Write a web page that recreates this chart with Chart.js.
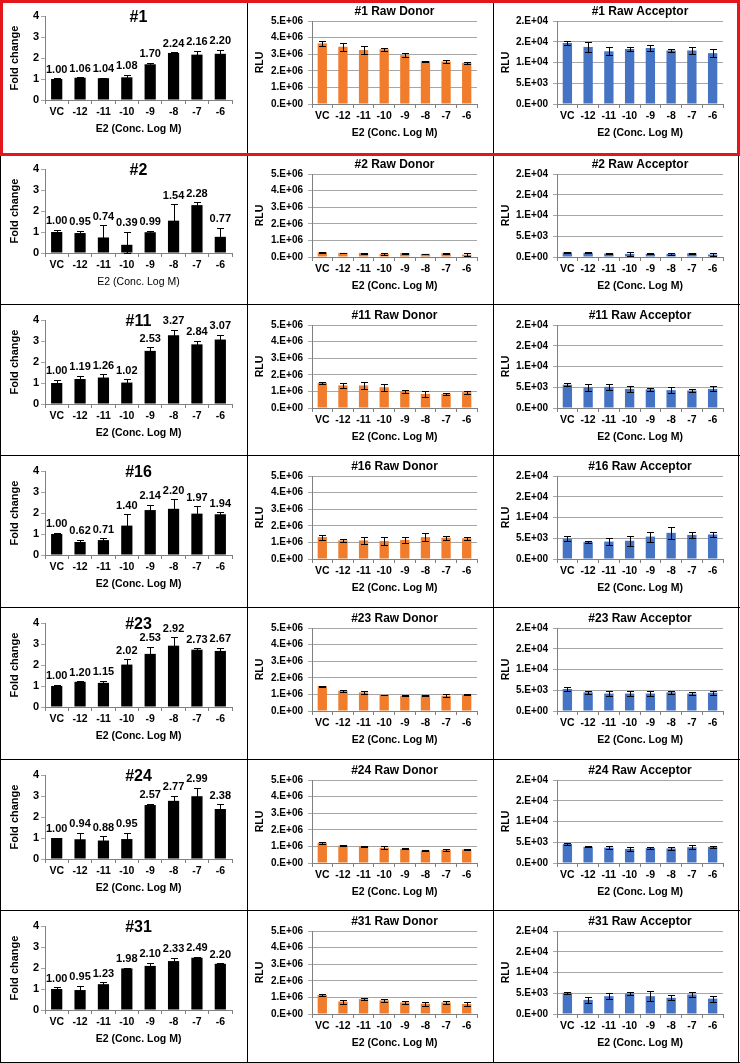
<!DOCTYPE html>
<html>
<head>
<meta charset="utf-8">
<script src="https://cdn.jsdelivr.net/npm/chart.js@4.4.0/dist/chart.umd.min.js"></script>
<style>
    body { margin: 0; background: #fff; }
    #sheet { position: relative; width: 740px; height: 1063px; overflow: hidden; background: #fff; }
    .cell { position: absolute; }
    .cell canvas { display: block; }
    .line { position: absolute; background: #000; }
    .redbox { position: absolute; border: 3px solid #e3161b; box-sizing: border-box; }
</style>
</head>
<body>
<div id="sheet"></div>
<script>
// ========================================
// DATA
// ========================================

const categories = ['VC', '-12', '-11', '-10', '-9', '-8', '-7', '-6'];
const samples = ['#1', '#2', '#11', '#16', '#23', '#24', '#31'];

// Fold change, one row per sample
const foldValues = [
    [1.00, 1.06, 1.04, 1.08, 1.70, 2.24, 2.16, 2.20],
    [1.00, 0.95, 0.74, 0.39, 0.99, 1.54, 2.28, 0.77],
    [1.00, 1.19, 1.26, 1.02, 2.53, 3.27, 2.84, 3.07],
    [1.00, 0.62, 0.71, 1.40, 2.14, 2.20, 1.97, 1.94],
    [1.00, 1.20, 1.15, 2.02, 2.53, 2.92, 2.73, 2.67],
    [1.00, 0.94, 0.88, 0.95, 2.57, 2.77, 2.99, 2.38],
    [1.00, 0.95, 1.23, 1.98, 2.10, 2.33, 2.49, 2.20]
];
const foldErrors = [
    [0.04, 0.02, 0.02, 0.12, 0.08, 0.04, 0.18, 0.19],
    [0.10, 0.10, 0.58, 0.62, 0.08, 0.78, 0.14, 0.43],
    [0.15, 0.15, 0.17, 0.17, 0.17, 0.26, 0.18, 0.22],
    [0.07, 0.10, 0.08, 0.55, 0.25, 0.45, 0.35, 0.10],
    [0.06, 0.03, 0.10, 0.25, 0.33, 0.40, 0.08, 0.15],
    [0.02, 0.30, 0.20, 0.30, 0.07, 0.25, 0.40, 0.22],
    [0.08, 0.20, 0.08, 0.03, 0.15, 0.15, 0.05, 0.03]
];

// Raw donor RLU
const donorValues = [
    [3.65e6, 3.45e6, 3.25e6, 3.30e6, 2.94e6, 2.58e6, 2.56e6, 2.48e6],
    [0.28e6, 0.25e6, 0.24e6, 0.18e6, 0.24e6, 0.19e6, 0.23e6, 0.14e6],
    [1.52e6, 1.36e6, 1.36e6, 1.25e6, 1.00e6, 0.85e6, 0.85e6, 0.95e6],
    [1.32e6, 1.12e6, 1.12e6, 1.08e6, 1.15e6, 1.32e6, 1.28e6, 1.25e6],
    [1.50e6, 1.22e6, 1.12e6, 0.97e6, 0.92e6, 0.95e6, 0.92e6, 0.97e6],
    [1.22e6, 1.05e6, 1.00e6, 0.92e6, 0.85e6, 0.75e6, 0.80e6, 0.82e6],
    [1.15e6, 0.75e6, 0.90e6, 0.82e6, 0.70e6, 0.62e6, 0.70e6, 0.60e6]
];
const donorErrors = [
    [0.15e6, 0.25e6, 0.22e6, 0.08e6, 0.12e6, 0.02e6, 0.10e6, 0.06e6],
    [0.03e6, 0.02e6, 0.03e6, 0.08e6, 0.03e6, 0.02e6, 0.03e6, 0.08e6],
    [0.05e6, 0.15e6, 0.20e6, 0.20e6, 0.08e6, 0.20e6, 0.06e6, 0.10e6],
    [0.15e6, 0.08e6, 0.22e6, 0.25e6, 0.20e6, 0.22e6, 0.12e6, 0.10e6],
    [0.03e6, 0.06e6, 0.10e6, 0.02e6, 0.03e6, 0.02e6, 0.08e6, 0.03e6],
    [0.05e6, 0.02e6, 0.05e6, 0.08e6, 0.03e6, 0.03e6, 0.06e6, 0.04e6],
    [0.05e6, 0.12e6, 0.05e6, 0.08e6, 0.10e6, 0.12e6, 0.10e6, 0.10e6]
];

// Raw acceptor RLU
const acceptorValues = [
    [14.7e3, 13.75e3, 12.7e3, 13.25e3, 13.5e3, 12.9e3, 12.9e3, 12.25e3],
    [1.1e3, 1.0e3, 0.85e3, 0.75e3, 0.75e3, 0.75e3, 0.9e3, 0.6e3],
    [5.6e3, 5.0e3, 5.1e3, 4.6e3, 4.5e3, 4.3e3, 4.2e3, 4.6e3],
    [4.9e3, 4.1e3, 4.2e3, 4.4e3, 5.4e3, 6.3e3, 5.8e3, 5.9e3],
    [5.3e3, 4.5e3, 4.2e3, 4.2e3, 4.2e3, 4.5e3, 4.2e3, 4.4e3],
    [4.6e3, 3.9e3, 3.7e3, 3.4e3, 3.6e3, 3.5e3, 3.8e3, 3.9e3],
    [5.1e3, 3.4e3, 4.3e3, 4.9e3, 4.3e3, 3.9e3, 4.7e3, 3.7e3]
];
const acceptorErrors = [
    [0.6e3, 1.2e3, 1.0e3, 0.5e3, 0.8e3, 0.3e3, 0.9e3, 0.9e3],
    [0.2e3, 0.1e3, 0.2e3, 0.4e3, 0.1e3, 0.15e3, 0.1e3, 0.35e3],
    [0.4e3, 0.8e3, 0.7e3, 0.8e3, 0.4e3, 0.7e3, 0.3e3, 0.6e3],
    [0.6e3, 0.2e3, 0.8e3, 1.2e3, 1.2e3, 1.4e3, 0.8e3, 0.7e3],
    [0.4e3, 0.4e3, 0.5e3, 0.5e3, 0.5e3, 0.4e3, 0.4e3, 0.5e3],
    [0.2e3, 0.15e3, 0.4e3, 0.4e3, 0.15e3, 0.25e3, 0.5e3, 0.2e3],
    [0.3e3, 0.7e3, 0.7e3, 0.4e3, 1.2e3, 0.6e3, 0.6e3, 0.7e3]
];

// Axis ranges
const foldMax = 4, foldStep = 1;
const donorMax = 5e6, donorStep = 1e6;
const acceptorMax = 2e4, acceptorStep = 5e3;

// ========================================
// LAYOUT
// ========================================

const colX = [0, 247, 493, 740];
const rowY = [0, 153, 304, 455, 607, 759, 910, 1063];
const X_AXIS_H = 35;

const panelKinds = {
    fold:     { left: 45, right: 232, top: 16, bottom: 100, color: '#000000', max: foldMax, step: foldStep,
                yTitle: 'Fold change', titleY: 18, titleFont: 'bold 16px "Liberation Sans", Arial, sans-serif' },
    donor:    { left: 65, right: 230, top: 21, bottom: 104, color: '#f07c2c', max: donorMax, step: donorStep,
                yTitle: 'RLU', titleY: 12, titleFont: 'bold 12px "Liberation Sans", Arial, sans-serif' },
    acceptor: { left: 64, right: 230, top: 21, bottom: 104, color: '#4674c4', max: acceptorMax, step: acceptorStep,
                yTitle: 'RLU', titleY: 12, titleFont: 'bold 12px "Liberation Sans", Arial, sans-serif' }
};

Chart.defaults.font.family = '"Liberation Sans", Arial, sans-serif';
Chart.defaults.color = '#000';

// Excel style "1.E+06"
function sciLabel(v) {
    if (v === 0) return '0.E+00';
    const e = Math.floor(Math.log10(v) + 1e-9);
    const m = Math.round(v / Math.pow(10, e));
    return m + '.E+' + String(e).padStart(2, '0');
}

// ========================================
// PLUGINS
// ========================================

const errorBarPlugin = {
    id: 'errorBars',
    afterDatasetsDraw(chart, args, opts) {
        const errs = opts.errors;
        if (!errs) return;
        const ctx = chart.ctx;
        const y = chart.scales.y;
        const data = chart.data.datasets[0].data;
        ctx.save();
        ctx.strokeStyle = '#000';
        ctx.lineWidth = 1;
        chart.getDatasetMeta(0).data.forEach((bar, i) => {
            const top = Math.round(y.getPixelForValue(data[i] + errs[i])) + 0.5;
            const bot = Math.round(y.getPixelForValue(Math.max(0, data[i] - errs[i]))) + 0.5;
            const x = Math.round(bar.x) + 0.5;
            ctx.beginPath();
            ctx.moveTo(x, top); ctx.lineTo(x, bot);
            ctx.moveTo(x - 3.5, top); ctx.lineTo(x + 3.5, top);
            ctx.moveTo(x - 3.5, bot); ctx.lineTo(x + 3.5, bot);
            ctx.stroke();
        });
        ctx.restore();
    }
};

const valueLabelPlugin = {
    id: 'valueLabels',
    afterDatasetsDraw(chart, args, opts) {
        if (!opts.show) return;
        const ctx = chart.ctx;
        const y = chart.scales.y;
        const data = chart.data.datasets[0].data;
        const errs = opts.errors;
        ctx.save();
        ctx.font = 'bold 11px "Liberation Sans", Arial, sans-serif';
        ctx.fillStyle = '#000';
        ctx.textAlign = 'center';
        ctx.textBaseline = 'bottom';
        chart.getDatasetMeta(0).data.forEach((bar, i) => {
            const top = y.getPixelForValue(data[i] + errs[i]);
            ctx.fillText(data[i].toFixed(2), bar.x, top - 3);
        });
        ctx.restore();
    }
};

const panelTitlePlugin = {
    id: 'panelTitle',
    afterDraw(chart, args, opts) {
        if (!opts.text) return;
        const ctx = chart.ctx;
        const a = chart.chartArea;
        ctx.save();
        ctx.font = opts.fontSpec;
        ctx.fillStyle = '#000';
        ctx.textAlign = 'center';
        ctx.textBaseline = 'middle';
        ctx.fillText(opts.text, (a.left + a.right) / 2, opts.y);
        ctx.restore();
    }
};

Chart.register(errorBarPlugin, valueLabelPlugin, panelTitlePlugin);

// ========================================
// PANELS
// ========================================

const sheet = document.getElementById('sheet');

function buildPanel(row, col, kind, values, errors, title) {
    const k = panelKinds[kind];
    const w = colX[col + 1] - colX[col];
    const h = rowY[row + 1] - rowY[row];

    const cell = document.createElement('div');
    cell.className = 'cell';
    cell.style.left = colX[col] + 'px';
    cell.style.top = rowY[row] + 'px';
    const canvas = document.createElement('canvas');
    canvas.width = w;
    canvas.height = h;
    canvas.style.width = w + 'px';
    canvas.style.height = h + 'px';
    cell.appendChild(canvas);
    sheet.appendChild(cell);

    const tickFont = { size: kind === 'fold' ? 11 : 10, weight: 'bold' };

    new Chart(canvas, {
        type: 'bar',
        data: {
            labels: categories,
            datasets: [{
                data: values,
                backgroundColor: k.color,
                borderWidth: 0,
                barPercentage: kind === 'fold' ? 0.48 : 0.45,
                categoryPercentage: 1
            }]
        },
        options: {
            responsive: false,
            animation: false,
            layout: {
                padding: { left: 0, top: k.top, right: w - k.right, bottom: h - k.bottom - X_AXIS_H }
            },
            plugins: {
                legend: { display: false },
                tooltip: { enabled: false },
                errorBars: { errors: errors },
                valueLabels: { show: kind === 'fold', errors: errors },
                panelTitle: {
                    text: kind === 'fold' ? title : title + (kind === 'donor' ? ' Raw Donor' : ' Raw Acceptor'),
                    y: k.titleY,
                    fontSpec: k.titleFont
                }
            },
            scales: {
                x: {
                    grid: { offset: true, drawOnChartArea: false, drawTicks: true, tickLength: 4, color: '#808080' },
                    border: { display: true, color: '#808080' },
                    ticks: { font: { size: 10.5, weight: 'bold' }, padding: 2, maxRotation: 0, autoSkip: false },
                    title: {
                        display: true,
                        text: 'E2 (Conc. Log M)',
                        font: { size: 10.5, weight: (kind === 'fold' && row === 1) ? 'normal' : 'bold' },
                        padding: { top: 0, bottom: 0 }
                    },
                    afterFit: s => { s.height = X_AXIS_H; }
                },
                y: {
                    min: 0,
                    max: k.max,
                    ticks: {
                        stepSize: k.step,
                        font: tickFont,
                        padding: kind === 'fold' ? 2 : 5,
                        callback: v => kind === 'fold' ? String(v) : sciLabel(v)
                    },
                    grid: {
                        drawOnChartArea: kind !== 'fold',
                        drawTicks: true,
                        tickLength: 4,
                        color: '#a6a6a6'
                    },
                    border: { display: true, color: '#808080' },
                    title: {
                        display: true,
                        text: k.yTitle,
                        font: { size: kind === 'fold' ? 11 : 10.5, weight: 'bold' },
                        padding: { top: kind === 'fold' ? 8 : 7, bottom: 0 }
                    },
                    afterFit: s => { s.width = k.left; }
                }
            }
        }
    });
}

samples.forEach((id, r) => {
    buildPanel(r, 0, 'fold', foldValues[r], foldErrors[r], id);
    buildPanel(r, 1, 'donor', donorValues[r], donorErrors[r], id);
    buildPanel(r, 2, 'acceptor', acceptorValues[r], acceptorErrors[r], id);
});

// ========================================
// TABLE BORDERS
// ========================================

function addLine(x, y, w, h) {
    const d = document.createElement('div');
    d.className = 'line';
    d.style.left = x + 'px';
    d.style.top = y + 'px';
    d.style.width = w + 'px';
    d.style.height = h + 'px';
    sheet.appendChild(d);
}

rowY.slice(2, 7).forEach(y => addLine(0, y, 740, 1));
addLine(0, 1062, 740, 1);
addLine(0, 0, 1, 1063);
addLine(738, 0, 1, 1063);
addLine(247, 0, 1, 1063);
addLine(493, 0, 1, 1063);

const red = document.createElement('div');
red.className = 'redbox';
red.style.left = '0px';
red.style.top = '0px';
red.style.width = '740px';
red.style.height = '156px';
sheet.appendChild(red);
</script>
</body>
</html>
